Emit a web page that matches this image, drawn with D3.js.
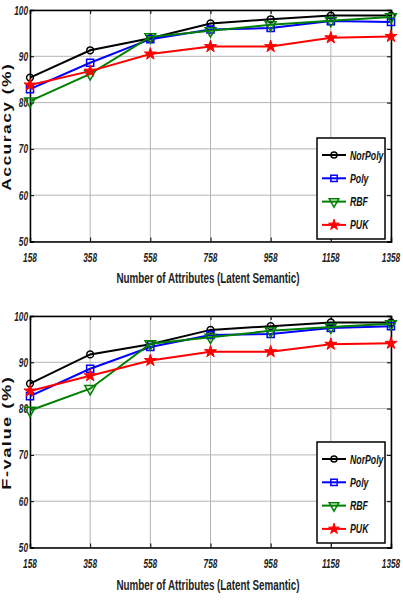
<!DOCTYPE html>
<html>
<head>
<meta charset="utf-8">
<style>
  body { margin: 0; background: white; }
  svg { display: block; }
  .tick-lab { font-family: "Liberation Sans", Arial, sans-serif; font-weight: bold; font-style: italic; font-size: 12.5px; fill: #222; }
  .x-title { font-family: "Liberation Sans", Arial, sans-serif; font-weight: bold; font-size: 14px; fill: #222; }
  .y-title { font-family: "Liberation Sans", Arial, sans-serif; font-weight: bold; font-size: 12px; letter-spacing: 1px; fill: #111; }
  .leg-lab { font-family: "Liberation Sans", Arial, sans-serif; font-weight: bold; font-style: italic; font-size: 12.5px; fill: #111; }
</style>
<script src="https://cdn.jsdelivr.net/npm/d3@7"></script>
</head>
<body>
<svg id="chart" width="403" height="609"></svg>
<script>
  // data
  let attributes = [158, 358, 558, 758, 958, 1158, 1358]
  let yTicks = [50, 60, 70, 80, 90, 100]
  let seriesNames = ["NorPoly", "Poly", "RBF", "PUK"]

  let accNorPoly = [85.4, 91.3, 93.9, 97.1, 98.0, 98.8, 98.8]
  let accPoly    = [82.9, 88.6, 93.7, 95.8, 96.1, 97.6, 97.4]
  let accRBF     = [80.3, 86.2, 94.2, 95.5, 96.8, 97.7, 98.5]
  let accPUK     = [83.8, 86.8, 90.5, 92.1, 92.1, 94.0, 94.3]

  let fNorPoly = [85.4, 91.7, 93.9, 97.0, 97.8, 98.6, 98.6]
  let fPoly    = [82.7, 88.6, 93.3, 95.9, 96.1, 97.4, 97.8]
  let fRBF     = [79.6, 84.3, 94.0, 95.4, 96.8, 97.6, 98.3]
  let fPUK     = [83.8, 87.1, 90.4, 92.3, 92.3, 93.9, 94.1]

  let colors = {NorPoly: "#000000", Poly: "#0000ff", RBF: "#008000", PUK: "#ff0000"}
  let narrow = 0.66 // squeeze for the condensed font look

  let svg = d3.select("#chart")

  function drawPanel(cfg) {
    let {top, bottom, yTitle, yTitleLen, values, legendTop, titleY, tickY} = cfg
    let left = 30, right = 391

    let x = d3.scaleLinear().domain([158, 1358]).range([left, right])
    let y = d3.scaleLinear().domain([50, 100]).range([bottom, top])

    let g = svg.append("g")

    // grid
    g.selectAll(".gx").data(attributes).enter().append("line")
      .attr("x1", d => x(d)).attr("x2", d => x(d))
      .attr("y1", top).attr("y2", bottom)
      .attr("stroke", "#b4b4b4").attr("stroke-width", 1)
    g.selectAll(".gy").data(yTicks).enter().append("line")
      .attr("x1", left).attr("x2", right)
      .attr("y1", d => y(d)).attr("y2", d => y(d))
      .attr("stroke", "#b4b4b4").attr("stroke-width", 1)

    // axes, ticks pointing inwards on all four sides
    let axB = d3.axisBottom(x).tickValues(attributes).tickSize(-4).tickFormat("")
    let axT = d3.axisTop(x).tickValues(attributes).tickSize(-4).tickFormat("")
    let axL = d3.axisLeft(y).tickValues(yTicks).tickSize(-4).tickFormat("")
    let axR = d3.axisRight(y).tickValues(yTicks).tickSize(-4).tickFormat("")
    let axes = [
      [axB, `translate(0,${bottom})`], [axT, `translate(0,${top})`],
      [axL, `translate(${left},0)`], [axR, `translate(${right},0)`]
    ]
    axes.forEach(([ax, tr]) => {
      let a = g.append("g").attr("transform", tr).call(ax)
      a.select(".domain").attr("stroke", "#000").attr("stroke-width", 1.5)
      a.selectAll(".tick line").attr("stroke", "#000")
    })

    // tick labels
    g.selectAll(".xl").data(attributes).enter().append("text")
      .attr("class", "tick-lab")
      .attr("transform", d => `translate(${x(d)},${tickY}) scale(${narrow},1)`)
      .attr("text-anchor", "middle")
      .text(d => d)
    g.selectAll(".yl").data(yTicks).enter().append("text")
      .attr("class", "tick-lab")
      .attr("transform", d => `translate(${left - 2},${y(d) + 4.5}) scale(${narrow},1)`)
      .attr("text-anchor", "end")
      .text(d => d)

    // titles
    g.append("text").attr("class", "x-title")
      .attr("x", 208).attr("y", titleY)
      .attr("text-anchor", "middle")
      .attr("textLength", 183).attr("lengthAdjust", "spacingAndGlyphs")
      .text("Number of Attributes (Latent Semantic)")
    g.append("text").attr("class", "y-title")
      .attr("transform", `translate(10.5,${(top + bottom) / 2 + 1}) rotate(-90)`)
      .attr("text-anchor", "middle")
      .attr("textLength", yTitleLen).attr("lengthAdjust", "spacingAndGlyphs")
      .text(yTitle)

    // series
    let line = d3.line().x((d, i) => x(attributes[i])).y(d => y(d))
    seriesNames.forEach((name, k) => {
      let vals = values[k]
      let c = colors[name]
      g.append("path").datum(vals)
        .attr("d", line).attr("fill", "none")
        .attr("stroke", c).attr("stroke-width", 2)
      g.selectAll(".m" + name).data(vals).enter().append("g")
        .attr("transform", (d, i) => `translate(${x(attributes[i])},${y(d)})`)
        .append("path")
        .call(s => styleMarker(s, name, c))
    })

    // legend
    let lx = 317, lw = 68, lh = 101
    g.append("rect").attr("x", lx).attr("y", legendTop)
      .attr("width", lw).attr("height", lh)
      .attr("fill", "white").attr("stroke", "#000").attr("stroke-width", 1.5)
    seriesNames.forEach((name, k) => {
      let ly = legendTop + 17 + k * 23.3
      let c = colors[name]
      g.append("line").attr("x1", lx + 5).attr("x2", lx + 29)
        .attr("y1", ly).attr("y2", ly)
        .attr("stroke", c).attr("stroke-width", 2)
      g.append("g").attr("transform", `translate(${lx + 17},${ly})`)
        .append("path")
        .call(s => styleMarker(s, name, c, 0.8))
      g.append("text").attr("class", "leg-lab")
        .attr("transform", `translate(${lx + 33},${ly + 4.5}) scale(${narrow + 0.04},1)`)
        .text(name)
    })
  }

  function styleMarker(sel, name, c, scale = 1) {
    if (name === "NorPoly") {
      sel.attr("d", d3.symbol(d3.symbolCircle, 36 * scale)()).attr("fill", "none").attr("stroke", c).attr("stroke-width", 1.5)
    } else if (name === "Poly") {
      sel.attr("d", d3.symbol(d3.symbolSquare, 50 * scale)()).attr("fill", "none").attr("stroke", c).attr("stroke-width", 1.5)
    } else if (name === "RBF") {
      sel.attr("d", d3.symbol(d3.symbolTriangle, 50 * scale)()).attr("fill", "none").attr("stroke", c).attr("stroke-width", 1.5)
        .attr("transform", "rotate(180)")
    } else {
      sel.attr("d", d3.symbol(d3.symbolStar, 45 * scale)()).attr("fill", c).attr("stroke", c).attr("stroke-width", 1)
    }
  }

  drawPanel({top: 10, bottom: 241.5, yTitle: "Accuracy (%)", yTitleLen: 128, values: [accNorPoly, accPoly, accRBF, accPUK], legendTop: 138, titleY: 283, tickY: 262})
  drawPanel({top: 316, bottom: 547.5, yTitle: "F-value (%)", yTitleLen: 114, values: [fNorPoly, fPoly, fRBF, fPUK], legendTop: 442, titleY: 590, tickY: 568})
</script>
</body>
</html>
